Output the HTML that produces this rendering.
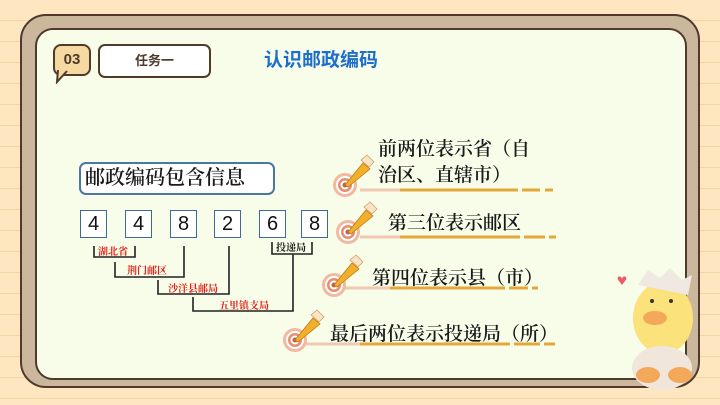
<!DOCTYPE html>
<html><head><meta charset="utf-8"><style>
body{margin:0;width:720px;height:405px;overflow:hidden;background:#fde6c0;
background-image:repeating-linear-gradient(180deg,#fde6c0 0,#fde6c0 20px,#f3d6a8 20px,#f3d6a8 21px);position:relative;font-family:"Liberation Sans","Noto Sans CJK SC",sans-serif}
.abs{position:absolute}
.frame{left:20px;top:14px;width:676px;height:370px;border:2px solid #4f3a2c;border-radius:26px;background:#cbb79b}
.inner{left:35px;top:28px;width:648px;height:348px;border:2px solid #4f3a2c;border-radius:18px;background:#f7fde9}
.serif{font-family:"Liberation Serif","Noto Serif CJK SC",serif;color:#1a1a1a;font-weight:600}
.dbox{width:25px;height:26px;border:1.5px solid #3d6a9c;background:#fff;font-size:20px;text-align:center;line-height:26px;color:#111}
.red{color:#e2231a;font-size:10px;font-family:"Liberation Serif","Noto Serif CJK SC",serif;font-weight:bold}
</style></head><body>
<div class="abs frame"></div>
<div class="abs inner"></div>
<div class="abs" style="left:53px;top:44px;width:34px;height:28px;border:2px solid #4f3a2c;border-radius:8px;background:#f6d9a0;font-weight:bold;font-size:15px;color:#4f3a2c;text-align:center;line-height:28px">03</div>
<svg class="abs" style="left:55px;top:70px" width="16" height="14"><path d="M3 0 L2 12 L12 1" fill="#f6d9a0" stroke="#4f3a2c" stroke-width="2"/></svg>
<div class="abs" style="left:98px;top:44px;width:109px;height:30px;border:2px solid #4f3a2c;border-radius:7px;background:#fff;font-size:13px;font-weight:bold;color:#4f3a2c;text-align:center;line-height:30px">任务一</div>
<div class="abs" style="left:264px;top:45px;font-size:19px;font-weight:bold;color:#1e6fcc">认识邮政编码</div>

<div class="abs serif" style="left:79px;top:162px;width:188px;height:29px;border:2px solid #4a77a6;border-radius:7px;background:#fff;font-size:20px;line-height:29px;padding-left:4px;box-sizing:content-box">邮政编码包含信息</div>
<div class="abs dbox" style="left:80px;top:210px">4</div>
<div class="abs dbox" style="left:125px;top:210px">4</div>
<div class="abs dbox" style="left:170px;top:210px">8</div>
<div class="abs dbox" style="left:214px;top:210px">2</div>
<div class="abs dbox" style="left:259px;top:210px">6</div>
<div class="abs dbox" style="left:301px;top:210px">8</div>
<svg class="abs" style="left:0;top:0" width="720" height="405">
<g fill="none" stroke="#222" stroke-width="1.6">
<path d="M94 246 V257 H135 V246"/>
<path d="M115 262 V277 H184 V246"/>
<path d="M158 280 V294 H229 V246"/>
<path d="M193 297 V311 H293 V254"/>
<path d="M272 242 V254 H312 V242"/>
</g>
<g stroke-width="3">
<path d="M360 190 H470" stroke="#f0c9b0"/><path d="M400 190 H518 M522 190 H540 M545 190 H553" stroke="#e3a83a"/>
<path d="M360 237 H470" stroke="#f0c9b0"/><path d="M400 237 H520 M524 237 H545 M549 237 H556" stroke="#e3a83a"/>
<path d="M345 288 H460" stroke="#f0c9b0"/><path d="M390 288 H505 M509 288 H528 M532 288 H538" stroke="#e3a83a"/>
<path d="M300 344 H420" stroke="#f0c9b0"/><path d="M360 344 H510 M514 344 H540 M544 344 H555" stroke="#e3a83a"/>
</g>
</svg>
<svg class="abs" style="left:0;top:0" width="720" height="405">
<defs><g id="pt">
<circle r="12" fill="#f2b8a0"/><circle r="9" fill="#fff"/><circle r="7" fill="#e98d72"/><circle r="4.5" fill="#fff"/><circle r="2.5" fill="#c06048"/>
<path d="M0 0 L18 -22 L25 -16 L3 2Z" fill="#f2b02a" stroke="#c07a18" stroke-width="0.8"/>
<path d="M16 -25 L22 -30 L29 -23 L24 -18Z" fill="#fbe3c3" stroke="#c9a070" stroke-width="0.8"/>
</g></defs>
<use href="#pt" x="345" y="185"/>
<use href="#pt" x="348" y="232"/>
<use href="#pt" x="334" y="285"/>
<use href="#pt" x="295" y="340"/>
<path d="M619 281 c-4-4 2-7 3-2 c1-5 7-2 3 2 l-3 4z" fill="#ef5a6a"/>
<ellipse cx="663" cy="318" rx="30" ry="36" fill="#fbe27a"/>
<path d="M638 285 l10-15 l12 8 l10-10 l12 12 l10-5 l-4 20 z" fill="#efe9e2"/>
<ellipse cx="662" cy="368" rx="30" ry="22" fill="#f1e6dc"/>
<ellipse cx="648" cy="375" rx="12" ry="8" fill="#f3a85a"/><ellipse cx="680" cy="375" rx="12" ry="8" fill="#f3a85a"/>
<ellipse cx="655" cy="318" rx="12" ry="7" fill="#f3a85a"/>
<circle cx="652" cy="301" r="2" fill="#333"/><circle cx="671" cy="301" r="2" fill="#333"/>
</svg>
<div class="abs red" style="left:98px;top:243px">湖北省</div>
<div class="abs red" style="left:127px;top:262px">荆门邮区</div>
<div class="abs red" style="left:168px;top:280px">沙洋县邮局</div>
<div class="abs red" style="left:219px;top:297px">五里镇支局</div>
<div class="abs serif" style="left:276px;top:239px;font-size:10px;font-weight:bold">投递局</div>

<div class="abs serif" style="left:378px;top:137px;font-size:19px;line-height:26px;width:180px">前两位表示省（自<br>治区、直辖市）</div>
<div class="abs serif" style="left:388px;top:208px;font-size:19px">第三位表示邮区</div>
<div class="abs serif" style="left:372px;top:263px;font-size:19px">第四位表示县（市）</div>
<div class="abs serif" style="left:330px;top:319px;font-size:19px">最后两位表示投递局（所）</div>
</body></html>
